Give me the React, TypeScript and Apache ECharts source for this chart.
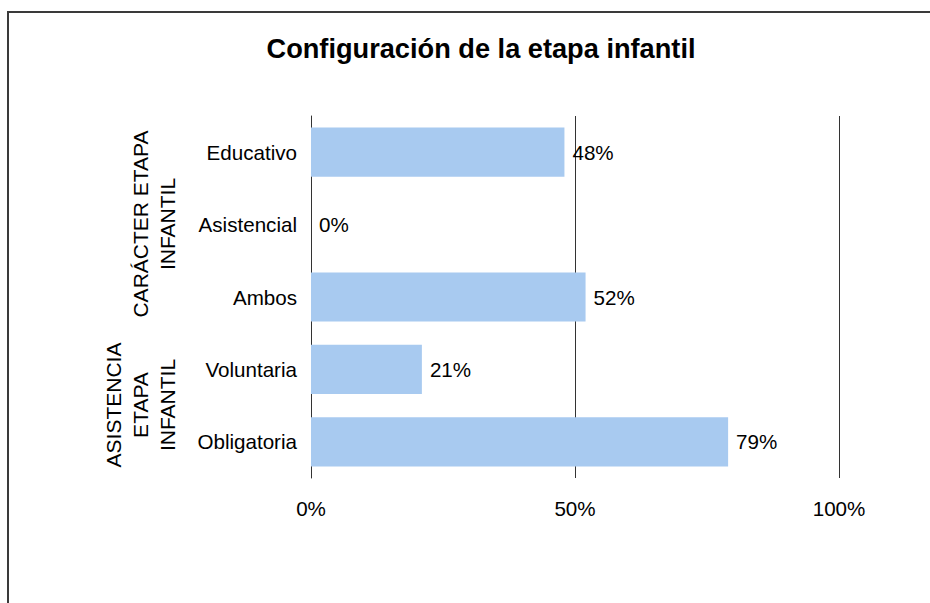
import React, { useEffect, useRef } from "react";
import * as echarts from "echarts";

const categories = ["Educativo", "Asistencial", "Ambos", "Voluntaria", "Obligatoria"];
const values = [48, 0, 52, 21, 79];
const xTicks = [0, 50, 100];
const groupLabels = ["CARÁCTER ETAPA\nINFANTIL", "ASISTENCIA\nETAPA\nINFANTIL"];
const titleText = "Configuración de la etapa infantil";

const FONT = "'Liberation Sans', Arial, Helvetica, sans-serif";
const FS = 20.6;

export default function App() {
  const ref = useRef<HTMLDivElement>(null);
  useEffect(() => {
    document.body.style.margin = "0";
    document.body.style.overflow = "hidden";
    if (!ref.current) return;
    const chart = echarts.init(ref.current, undefined, { renderer: "svg" });
    chart.setOption({
      animation: false,
      backgroundColor: "#ffffff",
      title: {
        text: titleText,
        left: 476,
        top: 30,
        textAlign: "center",
        textStyle: { fontSize: 27.2, fontWeight: "bold", color: "#000", fontFamily: FONT },
      },
      grid: { left: 311, right: 91, top: 116, bottom: 125, containLabel: false },
      xAxis: {
        type: "value",
        min: xTicks[0],
        max: xTicks[xTicks.length - 1],
        interval: xTicks[1] - xTicks[0],
        axisLine: { show: false },
        axisTick: { show: false },
        splitLine: { show: true, lineStyle: { color: "#333333", width: 1 } },
        axisLabel: {
          formatter: "{value}%",
          fontSize: FS,
          color: "#000",
          fontFamily: FONT,
          margin: 20,
        },
      },
      yAxis: {
        type: "category",
        inverse: true,
        data: categories,
        axisLine: { show: true, lineStyle: { color: "#333333", width: 1 } },
        axisTick: { show: false },
        axisLabel: { fontSize: FS, color: "#000", fontFamily: FONT, margin: 14 },
      },
      series: [
        {
          type: "bar",
          data: values,
          barCategoryGap: "32%",
          itemStyle: { color: "#a8caf0" },
          z: 3,
          label: {
            show: true,
            position: "right",
            distance: 8,
            formatter: "{c}%",
            fontSize: FS,
            color: "#000",
            fontFamily: FONT,
          },
        },
      ],
      graphic: [
        {
          type: "polyline",
          shape: { points: [[8, 1200], [8, 12], [1200, 12]] },
          style: { fill: "none", stroke: "#3a3a3a", lineWidth: 2 },
          silent: true,
        },
        {
          type: "text",
          x: 153.5,
          y: 224,
          rotation: Math.PI / 2,
          style: {
            text: groupLabels[0],
            fontSize: FS + 0.4,
            fontFamily: FONT,
            fill: "#000",
            textAlign: "center",
            textVerticalAlign: "middle",
            lineHeight: 27,
          },
        },
        {
          type: "text",
          x: 140,
          y: 405,
          rotation: Math.PI / 2,
          style: {
            text: groupLabels[1],
            fontSize: FS + 0.4,
            fontFamily: FONT,
            fill: "#000",
            textAlign: "center",
            textVerticalAlign: "middle",
            lineHeight: 27,
          },
        },
      ],
    });
    return () => chart.dispose();
  }, []);
  return <div ref={ref} style={{ width: 930, height: 603 }} />;
}
